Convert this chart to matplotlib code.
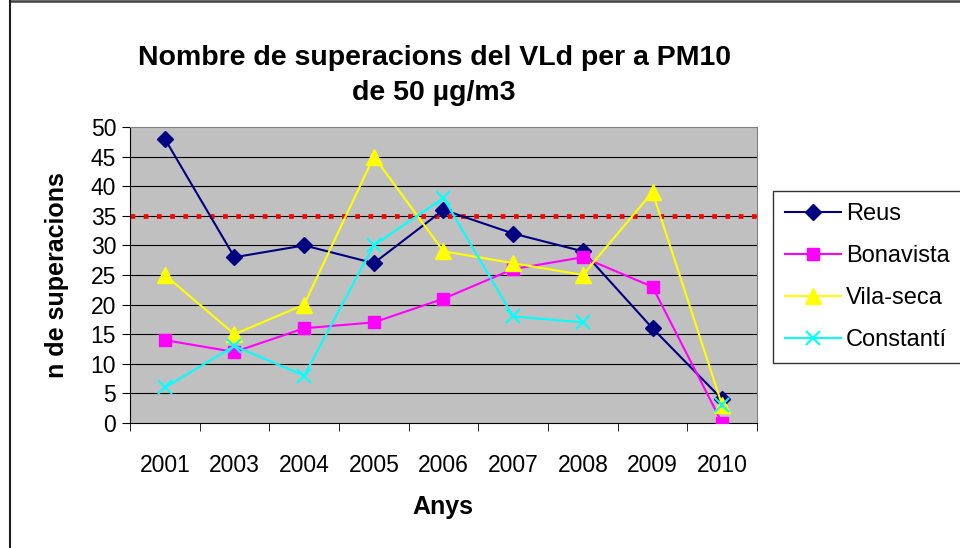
import numpy as np
import matplotlib.pyplot as plt
from matplotlib.lines import Line2D

plt.rcParams['font.family'] = ['Liberation Sans', 'DejaVu Sans']

# Data
years = ['2001', '2003', '2004', '2005', '2006', '2007', '2008', '2009', '2010']
reus = [48, 28, 30, 27, 36, 32, 29, 16, 4]
bonavista = [14, 12, 16, 17, 21, 26, 28, 23, 0]
vila_seca = [25, 15, 20, 45, 29, 27, 25, 39, 3]
constanti = [6, 13, 8, 30, 38, 18, 17, np.nan, 3]
limit = 35

x = np.arange(len(years))

fig = plt.figure(figsize=(9.6, 5.48), dpi=100)
ax = fig.add_axes([130 / 960, 1 - 423 / 548, 627 / 960, 296 / 548])
ax.set_facecolor('#C0C0C0')

# chart frame (only top and left edges are inside the picture)
fig.add_artist(Line2D([10 / 960, 1], [1 - 1 / 548, 1 - 1 / 548], transform=fig.transFigure,
                      color='#404040', linewidth=1.8))
fig.add_artist(Line2D([10 / 960, 10 / 960], [0, 1], transform=fig.transFigure,
                      color='#202020', linewidth=1.5))

for yv in range(5, 50, 5):
    ax.axhline(yv, color='black', linewidth=0.8, zorder=1)

ax.axhline(limit, color='red', linewidth=3.4, linestyle=(0, (1, 1.8)), zorder=2)

ax.plot(x, reus, color='#000080', marker='D', markersize=8, linewidth=1.5, label='Reus', zorder=3)
ax.plot(x, bonavista, color='#FF00FF', marker='s', markersize=9, linewidth=1.5, label='Bonavista', zorder=3)
ax.plot(x, vila_seca, color='#FFFF00', marker='^', markersize=11, linewidth=1.5, label='Vila-seca', zorder=3)
ax.plot(x, constanti, color='#00FFFF', marker='x', markersize=10, markeredgewidth=1.5,
        linewidth=1.5, label='Constantí', zorder=3)

ax.set_xlim(-0.5, len(years) - 0.5)
ax.set_ylim(0, 50)
ax.set_yticks(range(0, 51, 5))
ax.set_xticks(x)
ax.set_xticklabels(years)
ax.set_xticks(np.arange(-0.5, len(years)), minor=True)
ax.tick_params(axis='x', which='major', length=0, pad=22, labelsize=16.5)
ax.tick_params(axis='x', which='minor', length=6, direction='out', color='black')
ax.tick_params(axis='y', length=6, direction='out', pad=4, labelsize=16.5)

for side in ['top', 'right']:
    ax.spines[side].set_color('#808080')
for side in ['left', 'bottom']:
    ax.spines[side].set_color('black')

fig.text(443 / 960, 1 - 507 / 548, 'Anys', ha='center', va='center', fontsize=18, fontweight='bold')
fig.text(57 / 960, 1 - 275 / 548, 'n de superacions', ha='center', va='center', rotation=90,
         fontsize=18, fontweight='bold')
fig.text(434 / 960, 1 - 76 / 548, 'Nombre de superacions del VLd per a PM10\nde 50 µg/m3',
         ha='center', va='center', fontsize=20.5, fontweight='bold', linespacing=1.45)

leg = fig.legend(loc='upper left', bbox_to_anchor=(773 / 960, 1 - 191 / 548), fontsize=17,
                 frameon=True, fancybox=False, edgecolor='black', handlelength=2.4,
                 borderpad=0.5, labelspacing=0.85, handletextpad=0.2, borderaxespad=0)
leg.get_frame().set_linewidth(1)

fig.savefig('out.png', dpi=100)
